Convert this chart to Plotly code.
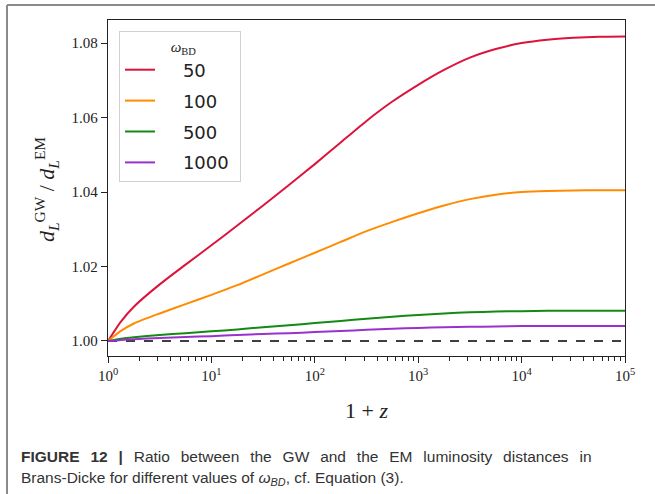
import plotly.graph_objects as go

# log10(1+z) sample positions
log_x = [0, 0.125, 0.25, 0.5, 0.75, 1.0, 1.25, 1.5, 1.75, 2.0, 2.25, 2.5, 2.75,
         3.0, 3.25, 3.5, 3.75, 4.0, 4.25, 4.5, 4.75, 5.0]
one_plus_z = [10 ** v for v in log_x]

ratio_50 = [1.0000, 1.0052, 1.0092, 1.0152, 1.0205, 1.0257, 1.0310, 1.0364, 1.0419, 1.0475,
            1.0533, 1.0591, 1.0643, 1.0688, 1.0728, 1.0761, 1.0784, 1.0800, 1.0809,
            1.0814, 1.0817, 1.0818]
ratio_100 = [1.0000, 1.0027, 1.0047, 1.0074, 1.0099, 1.0124, 1.0150, 1.0179, 1.0208, 1.0237,
             1.0266, 1.0295, 1.0320, 1.0343, 1.0364, 1.0381, 1.0393, 1.0400, 1.0403,
             1.0404, 1.0405, 1.0405]
ratio_500 = [1.0000, 1.0006, 1.0010, 1.0016, 1.0021, 1.0026, 1.0031, 1.0037, 1.0042, 1.0048,
             1.0054, 1.0060, 1.0065, 1.0070, 1.0074, 1.0077, 1.0079, 1.0080, 1.0081,
             1.0081, 1.0081, 1.0081]
ratio_1000 = [1.0000, 1.0003, 1.0005, 1.0008, 1.0011, 1.0013, 1.0016, 1.0019, 1.0021, 1.0024,
              1.0027, 1.0030, 1.0033, 1.0035, 1.0037, 1.0038, 1.0039, 1.0040, 1.0040,
              1.0040, 1.0040, 1.0040]

series_names = ["50", "100", "500", "1000"]
series_values = [ratio_50, ratio_100, ratio_500, ratio_1000]
series_colors = ["#dc143c", "#ff8c00", "#138a13", "#9932cc"]

x_tickvals = [1, 10, 100, 1000, 10000, 100000]
x_ticktext = ["10<sup>0</sup>", "10<sup>1</sup>", "10<sup>2</sup>",
              "10<sup>3</sup>", "10<sup>4</sup>", "10<sup>5</sup>"]
y_tickvals = [1.00, 1.02, 1.04, 1.06, 1.08]
y_ticktext = ["1.00", "1.02", "1.04", "1.06", "1.08"]

W, H = 655, 494
L, R, T, B = 108, 30, 20, 138
pw, ph = W - L - R, H - T - B


def px(x):
    return (x - L) / pw


def py(y):
    return (H - B - y) / ph


NB = "\u00a0"
GAP = "\u2002\u2009"  # widened word gap to imitate the justified first caption line

fig = go.Figure()

fig.add_trace(go.Scatter(x=[1, 100000], y=[1.0, 1.0], mode="lines",
                         line=dict(color="black", width=1.3, dash="dash"),
                         showlegend=False, hoverinfo="skip"))

for name, vals, col in zip(series_names, series_values, series_colors):
    fig.add_trace(go.Scatter(x=one_plus_z, y=vals, mode="lines", name=NB * 4 + name + NB,
                             legendgroup=name,
                             line=dict(color=col, width=2, shape="spline", smoothing=0.6)))

serif = "Liberation Serif, DejaVu Serif, serif"
sans = "Liberation Sans, Arial, sans-serif"

fig.update_layout(
    width=W, height=H,
    margin=dict(l=L, r=R, t=T, b=B),
    plot_bgcolor="white", paper_bgcolor="white",
    font=dict(family=serif, color="#222222"),
    xaxis=dict(type="log", range=[0, 5], tickvals=x_tickvals, ticktext=x_ticktext,
               ticks="outside", ticklen=6, tickwidth=1.2, tickcolor="#222",
               showline=True, linecolor="#222", linewidth=1.3, mirror=True,
               showgrid=False, zeroline=False,
               tickfont=dict(family=serif, size=15),
               minor=dict(ticks="outside", ticklen=3.5, tickwidth=1, tickcolor="#222",
                          dtick="D1", showgrid=False)),
    yaxis=dict(range=[0.99597, 1.0862], tickvals=y_tickvals, ticktext=y_ticktext,
               ticks="outside", ticklen=6, tickwidth=1.2, tickcolor="#222",
               showline=True, linecolor="#222", linewidth=1.3, mirror=True,
               showgrid=False, zeroline=False,
               tickfont=dict(family=serif, size=15)),
    legend=dict(x=px(119), y=py(31), xanchor="left", yanchor="top",
                bgcolor="rgba(255,255,255,0.9)", bordercolor="#d0d0d0", borderwidth=1,
                font=dict(family="DejaVu Sans, sans-serif", size=18, color="#222"),
                tracegroupgap=4.5,
                title=dict(text=NB * 13 + "<i>ω</i><sub>BD</sub>", side="top",
                           font=dict(family=serif, size=15, color="#222"))),
    showlegend=True,
)

line1 = GAP.join(["<b>FIGURE", "12", "|</b>", "Ratio", "between", "the", "GW", "and",
                  "the", "EM", "luminosity", "distances", "in"])

annotations = [
    dict(text="1 + <i>z</i>", x=px(366), y=py(410), xref="paper", yref="paper",
         showarrow=False, font=dict(family=serif, size=22, color="#222"),
         xanchor="center", yanchor="middle"),
    dict(text="<i>d</i><sub><i>L</i></sub><sup>GW</sup> / <i>d</i><sub><i>L</i></sub><sup>EM</sup>",
         x=px(46), y=py(190), xref="paper", yref="paper", textangle=-90,
         showarrow=False, font=dict(family=serif, size=22, color="#222"),
         xanchor="center", yanchor="middle"),
    dict(text=line1,
         x=px(19), y=py(456), xref="paper", yref="paper", showarrow=False,
         font=dict(family=sans, size=15.5, color="#333"),
         xanchor="left", yanchor="middle"),
    dict(text="Brans-Dicke for different values of <i>ω</i><sub><i>BD</i></sub>, cf. Equation (3).",
         x=px(19), y=py(478), xref="paper", yref="paper", showarrow=False,
         font=dict(family=sans, size=15.5, color="#333"),
         xanchor="left", yanchor="middle"),
]
fig.update_layout(annotations=annotations)

fig.add_shape(type="line", xref="paper", yref="paper", x0=px(7), x1=px(7), y0=py(5), y1=py(520),
              line=dict(color="#8a8a8a", width=2))
fig.add_shape(type="line", xref="paper", yref="paper", x0=px(7), x1=px(680), y0=py(5), y1=py(5),
              line=dict(color="#8a8a8a", width=2))

fig.write_html("out.html")
